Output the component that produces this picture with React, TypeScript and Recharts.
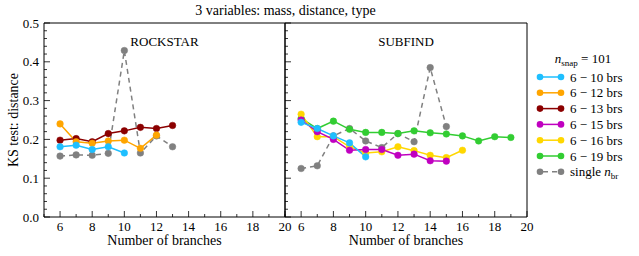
import { LineChart, Line, XAxis, YAxis } from "recharts"

const FONT = "'Liberation Serif', 'Times New Roman', serif"

const BRANCHES = [6, 7, 8, 9, 10, 11, 12, 13, 14, 15, 16, 17, 18, 19]
const X_TICKS = [5, 6, 7, 8, 9, 10, 11, 12, 13, 14, 15, 16, 17, 18, 19, 20]
const X_MAJOR = [6, 8, 10, 12, 14, 16, 18, 20]
const Y_TICKS = [0, 0.02, 0.04, 0.06, 0.08, 0.1, 0.12, 0.14, 0.16, 0.18, 0.2, 0.22, 0.24, 0.26, 0.28, 0.3, 0.32, 0.34, 0.36, 0.38, 0.4, 0.42, 0.44, 0.46, 0.48, 0.5]
const Y_MAJOR = [0, 0.1, 0.2, 0.3, 0.4, 0.5]
const Y_LABELS = ["0.0", "0.1", "0.2", "0.3", "0.4", "0.5"]

// ROCKSTAR panel
const rsBrs10 = [0.181, 0.185, 0.174, 0.181, 0.165]
const rsBrs12 = [0.24, 0.194, 0.19, 0.196, 0.198, 0.177, 0.211]
const rsBrs13 = [0.198, 0.202, 0.194, 0.215, 0.222, 0.231, 0.228, 0.236]
const rsSingle = [0.157, 0.16, 0.159, 0.164, 0.429, 0.165, 0.209, 0.181]

// SUBFIND panel
const sfBrs10 = [0.244, 0.228, 0.209, 0.191, 0.155]
const sfBrs15 = [0.25, 0.22, 0.2, 0.172, 0.174, 0.174, 0.159, 0.162, 0.145, 0.144]
const sfBrs16 = [0.265, 0.207, 0.207, 0.181, 0.165, 0.168, 0.181, 0.171, 0.159, 0.153, 0.172]
const sfBrs19 = [0.254, 0.228, 0.247, 0.226, 0.218, 0.218, 0.215, 0.222, 0.217, 0.214, 0.209, 0.196, 0.207, 0.205]
const sfSingle = [0.125, 0.132, 0.209, 0.228, 0.196, 0.179, 0.215, 0.194, 0.385, 0.233]

const COLORS = {
  b10: "#1ebfff",
  b12: "#ffa500",
  b13: "#8b0000",
  b15: "#c000c0",
  b16: "#ffd700",
  b19: "#32cd32",
  single: "#808080",
}

const LEGEND = [
  { label: "6 − 10 brs", color: COLORS.b10 },
  { label: "6 − 12 brs", color: COLORS.b12 },
  { label: "6 − 13 brs", color: COLORS.b13 },
  { label: "6 − 15 brs", color: COLORS.b15 },
  { label: "6 − 16 brs", color: COLORS.b16 },
  { label: "6 − 19 brs", color: COLORS.b19 },
]

const toPoints = (values: number[]) => values.map((v, i) => ({ n: BRANCHES[i], v }))

const PLOT_TOP = 23
const PLOT_BOTTOM = 217
const H = 256

function XTick(props: any) {
  const { x, y, payload, side, labels } = props
  const major = X_MAJOR.includes(payload.value)
  const len = major ? 6 : 3
  const dir = side === "bottom" ? -1 : 1
  return (
    <g>
      <line x1={x} y1={y} x2={x} y2={y + dir * len} stroke="#000" strokeWidth={0.8} />
      {labels && major && (
        <text x={x} y={y + 14} textAnchor="middle" fontSize={13} style={{ fontFamily: FONT }} fill="#000">
          {payload.value}
        </text>
      )}
    </g>
  )
}

function YTick(props: any) {
  const { x, y, payload, side, labels } = props
  const idx = Y_MAJOR.findIndex((m) => Math.abs(m - payload.value) < 1e-6)
  const major = idx >= 0
  const len = major ? 6 : 3
  const dir = side === "left" ? 1 : -1
  return (
    <g>
      <line x1={x} y1={y} x2={x + dir * len} y2={y} stroke="#000" strokeWidth={0.8} />
      {labels && major && (
        <text x={x - 5} y={y + 4.5} textAnchor="end" fontSize={13} style={{ fontFamily: FONT }} fill="#000">
          {Y_LABELS[idx]}
        </text>
      )}
    </g>
  )
}

type Series = { key: string; values: number[]; color: string; dashed?: boolean }

function Panel({ series, left, width, mLeft, mRight, yLabels }: { series: Series[]; left: number; width: number; mLeft: number; mRight: number; yLabels: boolean }) {
  return (
    <div style={{ position: "absolute", left, top: 0 }}>
      <LineChart
        width={width}
        height={H}
        margin={{ top: PLOT_TOP - 1, bottom: H - PLOT_BOTTOM - 1, left: mLeft, right: mRight }}
        style={{ fontFamily: FONT }}
      >
        <XAxis
          xAxisId="b"
          dataKey="n"
          type="number"
          domain={[5, 20]}
          ticks={X_TICKS}
          interval={0}
          height={1}
          tickSize={0}
          tickMargin={0}
          tickLine={false}
          axisLine={{ stroke: "#000" }}
          tick={<XTick side="bottom" labels />}
          label={{ value: "Number of branches", position: "bottom", offset: 17, style: { fontSize: 14, fontFamily: FONT, fill: "#000" } }}
        />
        <XAxis
          xAxisId="t"
          orientation="top"
          dataKey="n"
          type="number"
          domain={[5, 20]}
          ticks={X_TICKS}
          interval={0}
          height={1}
          tickSize={0}
          tickMargin={0}
          tickLine={false}
          axisLine={{ stroke: "#000" }}
          tick={<XTick side="top" labels={false} />}
        />
        <YAxis
          yAxisId="l"
          type="number"
          domain={[0, 0.5]}
          ticks={Y_TICKS}
          interval={0}
          width={1}
          tickSize={0}
          tickMargin={0}
          tickLine={false}
          axisLine={{ stroke: "#000" }}
          tick={<YTick side="left" labels={yLabels} />}
        />
        <YAxis
          yAxisId="r"
          orientation="right"
          type="number"
          domain={[0, 0.5]}
          ticks={Y_TICKS}
          interval={0}
          width={1}
          tickSize={0}
          tickMargin={0}
          tickLine={false}
          axisLine={{ stroke: "#000" }}
          tick={<YTick side="right" labels={false} />}
        />
        {series.map((s) => (
          <Line
            key={s.key}
            xAxisId="b"
            yAxisId="l"
            data={toPoints(s.values)}
            dataKey="v"
            stroke={s.color}
            strokeWidth={1.5}
            strokeDasharray={s.dashed ? "5 4" : undefined}
            dot={{ r: 3.3, fill: s.color, stroke: s.color, strokeWidth: 0.5, strokeDasharray: "" }}
            isAnimationActive={false}
          />
        ))}
      </LineChart>
    </div>
  )
}

export default function App() {
  const rockstar: Series[] = [
    { key: "single", values: rsSingle, color: COLORS.single, dashed: true },
    { key: "b13", values: rsBrs13, color: COLORS.b13 },
    { key: "b12", values: rsBrs12, color: COLORS.b12 },
    { key: "b10", values: rsBrs10, color: COLORS.b10 },
  ]
  const subfind: Series[] = [
    { key: "single", values: sfSingle, color: COLORS.single, dashed: true },
    { key: "b19", values: sfBrs19, color: COLORS.b19 },
    { key: "b16", values: sfBrs16, color: COLORS.b16 },
    { key: "b15", values: sfBrs15, color: COLORS.b15 },
    { key: "b10", values: sfBrs10, color: COLORS.b10 },
  ]

  const text = { fontFamily: FONT, fontSize: 13, color: "#000", position: "absolute" as const, whiteSpace: "nowrap" as const, lineHeight: "16px" }

  return (
    <div style={{ position: "absolute", left: 0, top: 0, width: 639, height: 256, background: "#fff", overflow: "hidden", fontFamily: FONT }}>
      <Panel series={rockstar} left={0} width={300} mLeft={43} mRight={14} yLabels />
      <Panel series={subfind} left={284} width={355} mLeft={0} mRight={111} yLabels={false} />

      <div style={{ ...text, fontSize: 14, left: 0, width: 571, top: 3, textAlign: "center" }}>3 variables: mass, distance, type</div>
      <div style={{ ...text, left: 44, width: 241, top: 34, textAlign: "center" }}>ROCKSTAR</div>
      <div style={{ ...text, left: 285, width: 242, top: 34, textAlign: "center" }}>SUBFIND</div>
      <div
        style={{
          ...text,
          fontSize: 14,
          left: 14,
          top: 120,
          transform: "translate(-50%, -50%) rotate(-90deg)",
        }}
      >
        KS test: distance
      </div>

      <svg style={{ position: "absolute", left: 530, top: 40, fontFamily: FONT }} width={109} height={150}>
        <text x={53} y={23} textAnchor="middle" fontSize={13}>
          <tspan fontStyle="italic">n</tspan>
          <tspan fontSize={9} dy={2.5}>snap</tspan>
          <tspan dy={-2.5}> = 101</tspan>
        </text>
        {LEGEND.map((e, i) => {
          const cy = 37 + i * 15.8
          return (
            <g key={e.label}>
              <line x1={10} y1={cy} x2={31} y2={cy} stroke={e.color} strokeWidth={1.5} />
              <circle cx={10} cy={cy} r={3.3} fill={e.color} />
              <circle cx={31} cy={cy} r={3.3} fill={e.color} />
              <text x={40} y={cy + 4.5} fontSize={13}>
                {e.label}
              </text>
            </g>
          )
        })}
        {(() => {
          const cy = 37 + 6 * 15.8
          return (
            <g>
              <line x1={10} y1={cy} x2={31} y2={cy} stroke={COLORS.single} strokeWidth={1.5} strokeDasharray="5 4" strokeDashoffset={-3} />
              <circle cx={10} cy={cy} r={3.3} fill={COLORS.single} />
              <circle cx={31} cy={cy} r={3.3} fill={COLORS.single} />
              <text x={40} y={cy + 4.5} fontSize={13}>
                single <tspan fontStyle="italic">n</tspan>
                <tspan fontSize={9} dy={2.5}>br</tspan>
              </text>
            </g>
          )
        })()}
      </svg>
    </div>
  )
}
